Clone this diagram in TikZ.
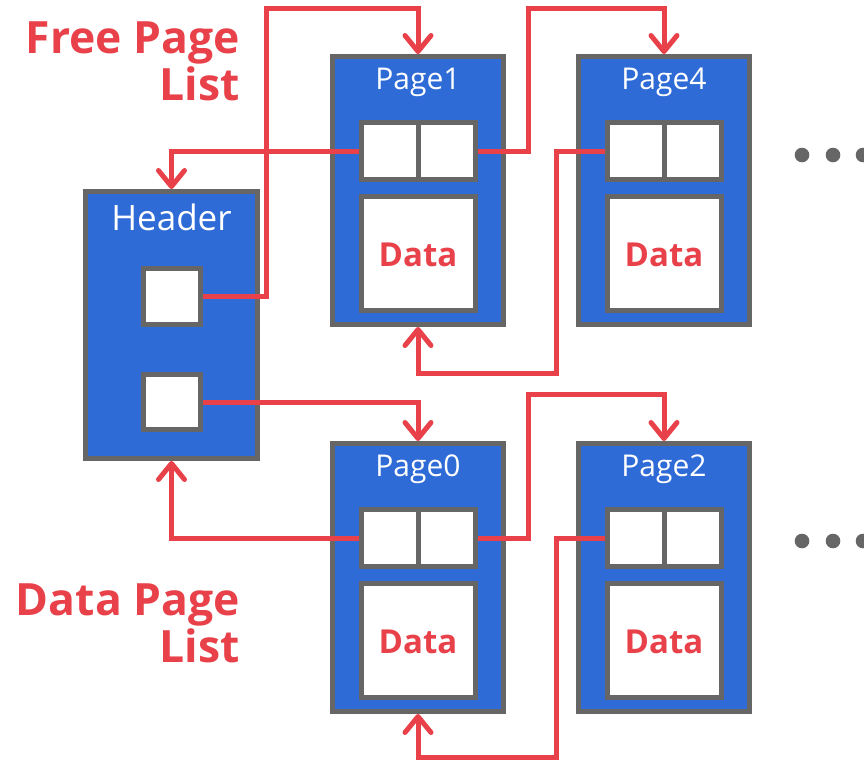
\documentclass[tikz,border=0pt]{standalone}
\usepackage{fontspec}
\setmainfont{Open Sans}
\usetikzlibrary{arrows.meta}
\definecolor{pblue}{HTML}{2E6BD6}
\definecolor{pgray}{HTML}{666666}
\definecolor{pred}{HTML}{E9414A}
\tikzset{
  outerbox/.style={draw=pgray, fill=pblue, line width=5pt, inner sep=0pt, rectangle},
  cellbox/.style={draw=pgray, fill=white, line width=5pt, inner sep=0pt, rectangle},
  titletext/.style={text=white, font=\fontsize{30}{30}\selectfont, inner sep=0pt, anchor=base},
  datatext/.style={text=pred, font=\fontsize{33}{33}\selectfont\bfseries, inner sep=0pt},
  listtext/.style={text=pred, font=\fontsize{44.5}{44.5}\selectfont\bfseries, inner sep=0pt, anchor=base east},
  link/.style={draw=pred, line width=5pt, line join=miter},
  arrowed/.style={-{Straight Barb[length=16pt,width=26pt,round]}},
  dotnode/.style={circle, fill=pgray, inner sep=0pt, minimum size=14.6pt}
}
\newcommand\mkpage[4]{% name, cx, top, label
  \node[outerbox, minimum width=171pt, minimum height=268pt] (#1) at (#2,{#3+136.5}) {};
  \node[titletext] (#1t) at (#2,{#3+35.5}) {#4};
  \node[cellbox, minimum width=57pt, minimum height=57pt] (#1l) at ({#2-28.5},{#3+97}) {};
  \node[cellbox, minimum width=57pt, minimum height=57pt] (#1r) at ({#2+28.5},{#3+97}) {};
  \node[cellbox, minimum width=114pt, minimum height=114pt] (#1d) at (#2,{#3+199.5}) {};
  \node[datatext] (#1dt) at (#2,{#3+201}) {Data};
}
\begin{document}
\begin{tikzpicture}[x=1pt,y=-1pt]
\useasboundingbox (0,0) rectangle (864,761);

% header
\node[outerbox, minimum width=172pt, minimum height=267pt] (h) at (171.5,325) {};
\node[titletext, font=\fontsize{35}{35}\selectfont] (ht) at (171.5,230) {Header};
\node[cellbox, minimum width=57pt, minimum height=56pt] (h1) at (172,296.5) {};
\node[cellbox, minimum width=57pt, minimum height=55pt] (h2) at (172,402) {};

% pages
\mkpage{p1}{418}{54}{Page1}
\mkpage{p4}{664}{54}{Page4}
\mkpage{p0}{418}{441}{Page0}
\mkpage{p2}{664}{441}{Page2}

% labels
\node[listtext] (fl1) at (240,53) {Free Page};
\node[listtext] (fl2) at (240,100) {List};
\node[listtext] (dl1) at (240,615) {Data Page};
\node[listtext] (dl2) at (240,662) {List};

% dots
\node[dotnode] (a1) at (802,155) {};
\node[dotnode] (a2) at (833,155) {};
\node[dotnode] (a3) at (863,155) {};
\node[dotnode] (b1) at (802,541) {};
\node[dotnode] (b2) at (833,541) {};
\node[dotnode] (b3) at (863,541) {};

% waypoints
\coordinate (w1) at (266,8);
\coordinate (w3) at (528,8);
\coordinate (w4) at (556,373);
\coordinate (w7) at (528,394);
\coordinate (w8) at (556,757);

% links
\draw[link, arrowed] (h1.east) -| (w1) -| (p1.north);
\draw[link, arrowed] (p1l.west) -| (h.north);
\draw[link, arrowed] (p1r.east) -| (w3) -| (p4.north);
\draw[link, arrowed] (p4l.west) -| (w4) -| (p1.south);
\draw[link, arrowed] (h2.east) -| (p0.north);
\draw[link, arrowed] (p0l.west) -| (h.south);
\draw[link, arrowed] (p0r.east) -| (w7) -| (p2.north);
\draw[link, arrowed] (p2l.west) -| (w8) -| (p0.south);
\end{tikzpicture}
\end{document}
